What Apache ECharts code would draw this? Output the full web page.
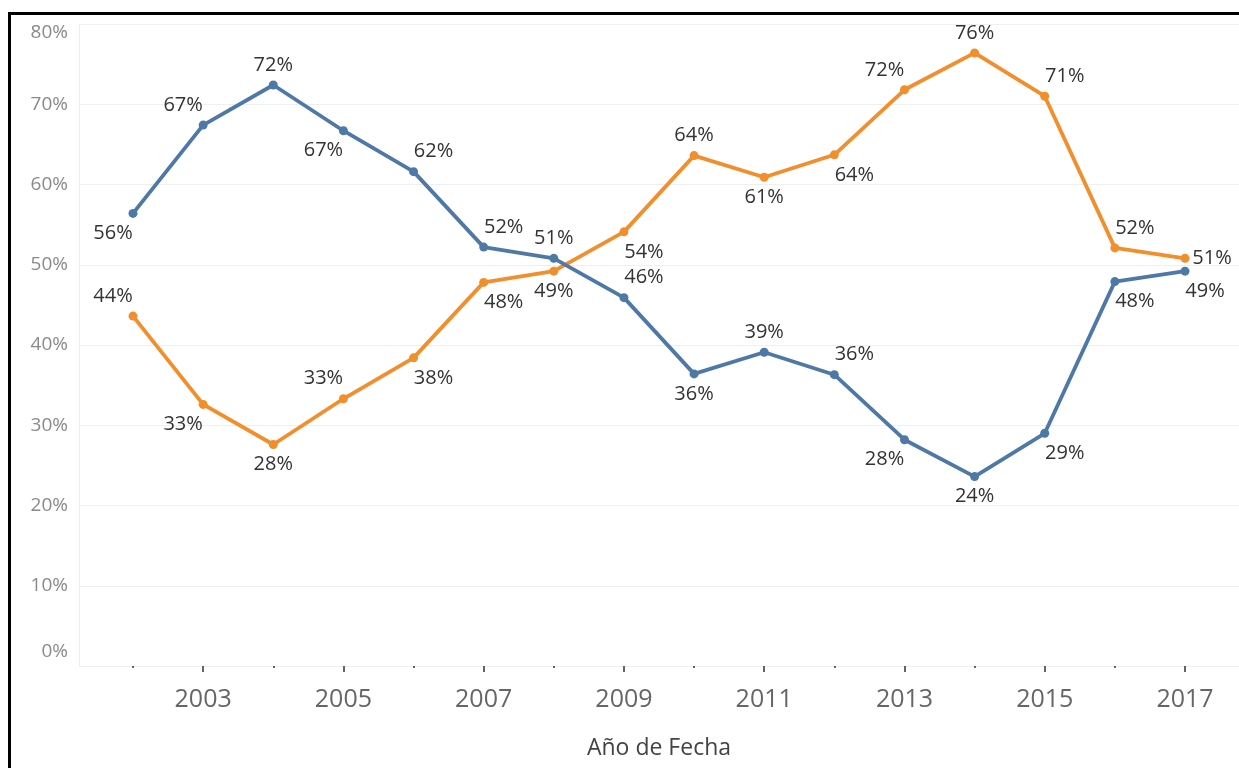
<!DOCTYPE html>
<html>
<head>
<meta charset="utf-8">
<script src="https://cdn.jsdelivr.net/npm/echarts@6/dist/echarts.min.js"></script>
<style>
html,body{margin:0;padding:0;background:#fff;}
#chart{width:1239px;height:768px;}
</style>
</head>
<body>
<div id="chart"></div>
<script>
// ---- data ----
const years = [2002,2003,2004,2005,2006,2007,2008,2009,2010,2011,2012,2013,2014,2015,2016,2017];
const blueValues = [56.4,67.4,72.4,66.7,61.6,52.2,50.8,45.9,36.4,39.1,36.3,28.2,23.6,29.0,47.9,49.2];
const orangeValues = [43.6,32.6,27.6,33.3,38.4,47.8,49.2,54.1,63.6,60.9,63.7,71.8,76.4,71.0,52.1,50.8];
const yTickLabels = [0,10,20,30,40,50,60,70,80];
const xLabelYears = [2003,2005,2007,2009,2011,2013,2015,2017];
const xMinorYears = [2002,2004,2006,2008,2010,2012,2014,2016];

// ---- label placement (layout, not data) ----
const bluePlace =   ['bl','tl','t','bl','tr','tr','t','tr','b','t','tr','bl','b','br','br','br'];
const orangePlace = ['tl','bl','b','tl','br','br','b','br','t','b','br','tl','t','tr','tr','r'];

const FONT = 'Open Sans';
const DX = 20, DY = 20;
function labelFor(code){
  let dx = 0, dy = 0;
  if (code.indexOf('t') >= 0) dy = -DY;
  if (code.indexOf('b') >= 0) dy = DY;
  if (code.indexOf('l') >= 0) dx = -DX;
  if (code.indexOf('r') >= 0) dx = DX;
  if (code === 'r') dx = 27;
  return {
    show: true,
    position: 'inside',
    offset: [dx, dy],
    formatter: p => Math.round(p.value[1]) + '%'
  };
}
function buildData(vals, place){
  return years.map((y, i) => ({ value: [y, vals[i]], label: labelFor(place[i]) }));
}

const chart = echarts.init(document.getElementById('chart'), null, {renderer:'canvas'});
const option = {
  animation: false,
  backgroundColor: '#fff',
  grid: { left: 79, right: 0, top: 24, bottom: 102, containLabel: false },
  xAxis: [{
    type: 'value',
    min: 2001.23, max: 2017.77,
    axisLine: { show: false },
    splitLine: { show: false },
    axisTick: { show: true, customValues: xLabelYears, length: 6, lineStyle: { color: '#333', width: 1.5 } },
    axisLabel: { customValues: xLabelYears, formatter: v => String(v), color: '#666', fontSize: 25, fontFamily: FONT, margin: 21 },
    name: 'Año de Fecha',
    nameLocation: 'middle',
    nameGap: 71,
    nameTextStyle: { color: '#444', fontSize: 23, fontFamily: FONT }
  },{
    type: 'value',
    min: 2001.23, max: 2017.77,
    position: 'bottom',
    axisLine: { show: false },
    splitLine: { show: false },
    axisTick: { show: true, customValues: xMinorYears, length: 2, lineStyle: { color: '#333', width: 1.5 } },
    axisLabel: { show: false }
  }],
  yAxis: {
    type: 'value',
    min: 0, max: 80, interval: 10,
    axisLine: { show: true, lineStyle: { color: '#eeeeee', width: 1 } },
    axisTick: { show: false },
    splitLine: { show: true, lineStyle: { color: '#efefef', width: 1 } },
    axisLabel: {
      color: '#8a8a8a', fontSize: 19, fontFamily: FONT, margin: 11,
      formatter: v => v === 80 ? '{top|' + v + '%}' : (v === 0 ? '{bot|' + v + '%}' : v + '%'),
      rich: {
        top: { color: '#8a8a8a', fontSize: 19, fontFamily: FONT, padding: [17,0,0,0] },
        bot: { color: '#8a8a8a', fontSize: 19, fontFamily: FONT, padding: [0,0,28,0] }
      }
    }
  },
  series: [
    {
      name: 'orange', type: 'line', data: buildData(orangeValues, orangePlace),
      color: '#f28e2b', symbol: 'circle', symbolSize: 9,
      lineStyle: { width: 3.8, color: '#f28e2b' },
      itemStyle: { color: '#f28e2b' },
      label: { color: '#333', fontSize: 20, fontFamily: FONT },
      z: 2
    },
    {
      name: 'blue', type: 'line', data: buildData(blueValues, bluePlace),
      color: '#4e79a7', symbol: 'circle', symbolSize: 9,
      lineStyle: { width: 3.8, color: '#4e79a7' },
      itemStyle: { color: '#4e79a7' },
      label: { color: '#333', fontSize: 20, fontFamily: FONT },
      z: 3
    }
  ],
  graphic: [
    { type: 'rect', shape: { x: 8, y: 12, width: 1231, height: 3 }, style: { fill: '#000' }, silent: true },
    { type: 'rect', shape: { x: 8, y: 12, width: 3, height: 756 }, style: { fill: '#000' }, silent: true }
  ]
};
chart.setOption(option);
</script>
</body>
</html>
